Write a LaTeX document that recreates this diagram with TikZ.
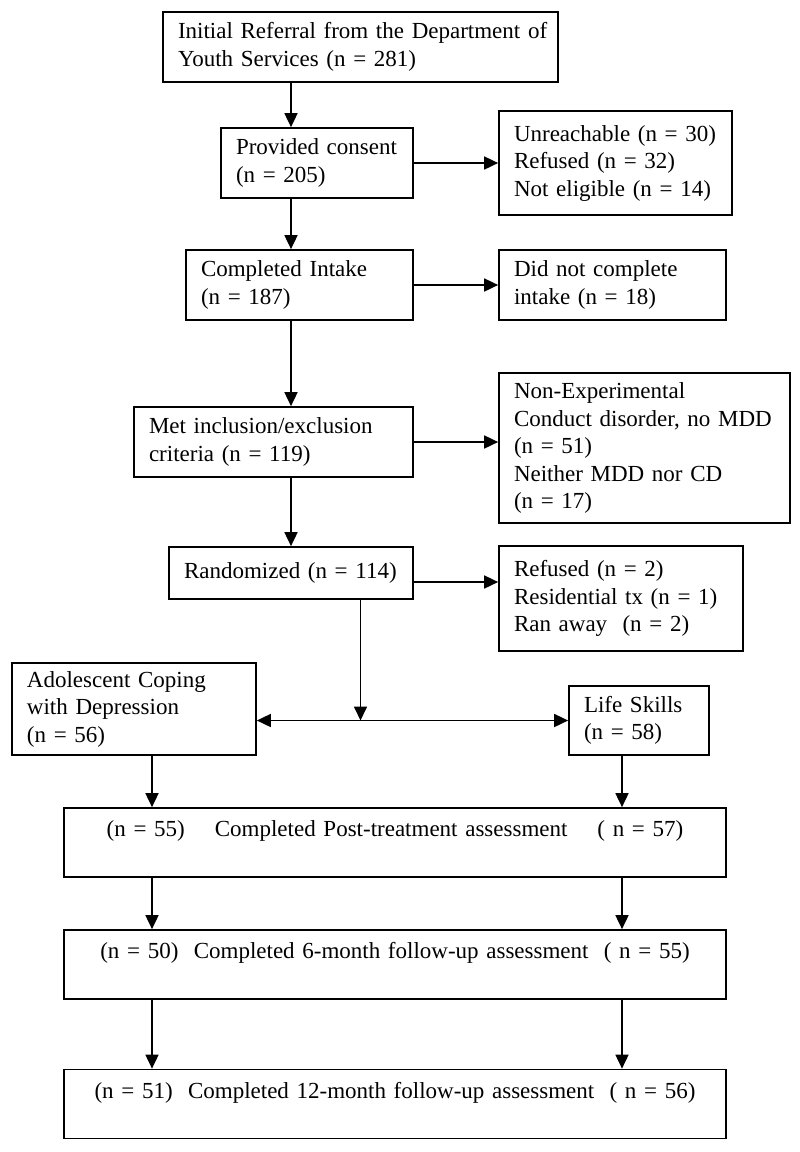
\documentclass[tikz,border=0pt]{standalone}
\usepackage{fontspec}
\setmainfont{Liberation Serif}
\usetikzlibrary{arrows.meta}

\tikzset{
    box/.style={draw, inner xsep=15pt, inner ysep=0pt, align=left},
    wide/.style={box, text width=632pt, minimum height=69pt, align=center},
}

\begin{document}
\begin{tikzpicture}[x=1pt, y=1pt, line width=1.7pt,
    font=\fontsize{23}{27.5}\selectfont,
    >={Triangle[length=14pt,width=13pt]}]
    \useasboundingbox (0,0) rectangle (800,-1152);

    % screening column
    \node[box, text width=365pt, minimum height=70pt] (referral) at (360.5,-47) {\mbox{Initial Referral from the Department of}\\Youth Services (n = 281)};
    \node[box, text width=162pt, minimum height=70pt, below of=referral, node distance=116pt, xshift=-43.5pt] (consent) {Provided consent\\(n = 205)};
    \node[box, text width=197pt, minimum height=70pt, below of=consent, node distance=122pt, xshift=-17.5pt] (intake) {Completed Intake\\(n = 187)};
    \node[box, text width=249pt, minimum height=70pt, below of=intake, node distance=157pt, xshift=-26pt] (met) {Met inclusion/exclusion\\criteria (n = 119)};
    \node[box, text width=214pt, minimum height=52pt, below of=met, node distance=131pt, xshift=17.5pt] (random) {Randomized (n = 114)};

    % drop-outs
    \node[box, text width=203pt, minimum height=104pt, right of=consent, node distance=298.5pt] (unreach) {Unreachable (n = 30)\\Refused (n = 32)\\Not eligible (n = 14)};
    \node[box, text width=197pt, minimum height=70pt, right of=intake, node distance=313pt] (didnot) {Did not complete\\intake (n = 18)};
    \node[box, text width=261pt, minimum height=150pt, right of=met, node distance=371pt, yshift=-6pt] (nonexp) {Non-Experimental\\Conduct disorder, no MDD\\(n = 51)\\Neither MDD nor CD\\(n = 17)};
    \node[box, text width=214pt, minimum height=105pt, right of=random, node distance=330pt, yshift=-25.5pt] (refused) {Refused (n = 2)\\Residential tx (n = 1)\\Ran away~~(n = 2)};

    % groups
    \node[box, text width=214pt, minimum height=92pt, below of=random, node distance=136pt, xshift=-157pt] (acwd) {Adolescent Coping\\with Depression\\(n = 56)};
    \node[box, text width=110pt, minimum height=69pt, right of=acwd, node distance=505pt, yshift=-11.5pt] (life) {Life Skills\\(n = 58)};

    % assessments
    \node[wide, below of=acwd, node distance=133.5pt, xshift=261pt] (post) {(n = 55)\hspace{30pt}Completed Post-treatment assessment\hspace{30pt}( n = 57)\\ \mbox{}};
    \node[wide, below of=post, node distance=122pt] (six) {(n = 50)~~Completed 6-month follow-up assessment~~( n = 55)\\ \mbox{}};
    \node[wide, below of=six, node distance=139.5pt] (twelve) {(n = 51)~~Completed 12-month follow-up assessment~~( n = 56)\\ \mbox{}};

    \draw[->] (referral.south -| random) -- (consent.north -| random);
    \draw[->] (consent.south -| random) -- (intake.north -| random);
    \draw[->] (intake.south -| random) -- (met.north -| random);
    \draw[->] (met.south -| random) -- (random.north);

    \draw[->] (consent) -- (unreach);
    \draw[->] (intake) -- (didnot);
    \draw[->] (met.east) -- (met.east -| nonexp.west);
    \draw[->] ([yshift=-9pt]random.east) -- ([yshift=-9pt]random.east -| refused.west);

    \coordinate (split) at (life.west -| referral);
    \draw[->] (random.south -| split) -- (split);
    \draw[<->] (acwd.east |- split) -- (life.west);

    \coordinate (lcol) at ([xshift=18pt]acwd.south);
    \coordinate (rcol) at ([xshift=-17pt]life.south);
    \draw[->] (lcol) -- (lcol |- post.north);
    \draw[->] (rcol) -- (rcol |- post.north);
    \draw[->] (post.south -| lcol) -- (six.north -| lcol);
    \draw[->] (post.south -| rcol) -- (six.north -| rcol);
    \draw[->] (six.south -| lcol) -- (twelve.north -| lcol);
    \draw[->] (six.south -| rcol) -- (twelve.north -| rcol);
\end{tikzpicture}
\end{document}
